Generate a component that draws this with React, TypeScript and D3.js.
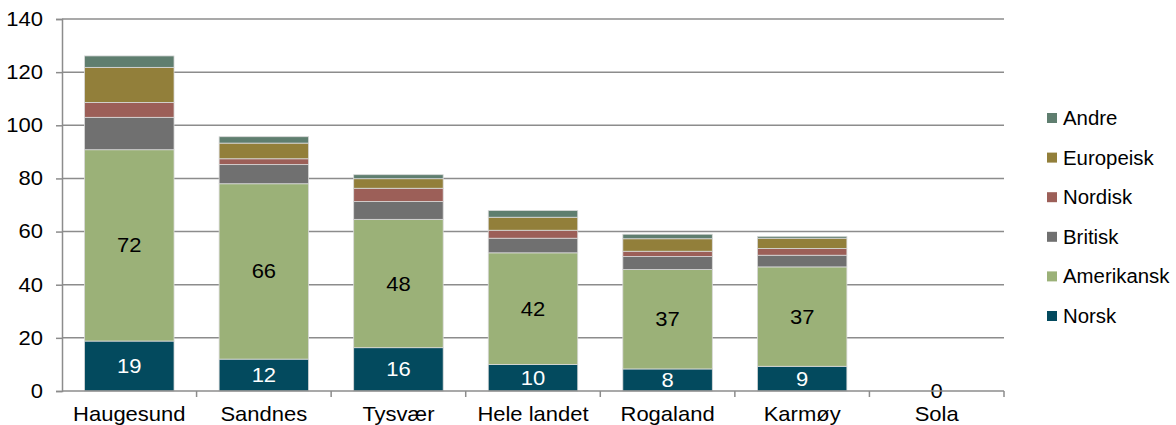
import { axisLeft, scaleBand, scaleLinear, select, stack } from 'd3'
import { useEffect, useRef } from 'react'

const categories = ['Haugesund', 'Sandnes', 'Tysvær', 'Hele landet', 'Rogaland', 'Karmøy', 'Sola']
const seriesNames = ['Norsk', 'Amerikansk', 'Britisk', 'Nordisk', 'Europeisk', 'Andre']
const norsk = [18.8, 12, 16.3, 10, 8.3, 9.3, 0]
const amerikansk = [72, 66, 48.3, 42, 37.4, 37.4, 0]
const britisk = [12.2, 7.2, 6.7, 5.5, 4.9, 4.4, 0]
const nordisk = [5.6, 2.2, 5, 3, 2, 2.5, 0]
const europeisk = [13.2, 5.9, 3.6, 4.9, 4.7, 3.9, 0]
const andre = [4.3, 2.4, 1.5, 2.5, 1.7, 0.7, 0]
const yTicks = [0, 20, 40, 60, 80, 100, 120, 140]

const colors = ['#034a5e', '#9bb178', '#707070', '#9c5f58', '#927f3a', '#5f7e6f']
const font = '"Liberation Sans", Arial, sans-serif'
const fontSize = 20
const stretch = 'scale(1.1,1)'

export default function App() {
  const svgRef = useRef<SVGSVGElement>(null)

  useEffect(() => {
    const root = select(svgRef.current)
    root.selectAll('*').remove()

    const margin = { top: 19, right: 172, bottom: 34, left: 62 }
    const width = 1176 - margin.left - margin.right
    const height = 425 - margin.top - margin.bottom

    const rows = categories.map((c, i) => ({
      cat: c,
      Norsk: norsk[i],
      Amerikansk: amerikansk[i],
      Britisk: britisk[i],
      Nordisk: nordisk[i],
      Europeisk: europeisk[i],
      Andre: andre[i],
    }))
    const layers = stack<any>().keys(seriesNames)(rows)

    const g = root.append('g').attr('transform', `translate(${margin.left},${margin.top})`)

    const x = scaleBand().domain(categories).range([0, width]).paddingInner(0.335).paddingOuter(0.1675)
    const y = scaleLinear().domain([0, 140]).range([height, 0])

    // gridlines
    g.selectAll('.grid')
      .data(yTicks.slice(1))
      .enter()
      .append('line')
      .attr('x1', 0)
      .attr('x2', width)
      .attr('y1', (d) => y(d))
      .attr('y2', (d) => y(d))
      .attr('stroke', '#8c8c8c')
      .attr('stroke-width', 1.5)

    // bars
    layers.forEach((layer, li) => {
      g.append('g')
        .selectAll('rect')
        .data(layer)
        .enter()
        .append('rect')
        .attr('x', (d: any) => x(d.data.cat) as number)
        .attr('y', (d: any) => y(d[1]))
        .attr('width', x.bandwidth())
        .attr('height', (d: any) => y(d[0]) - y(d[1]))
        .attr('fill', colors[li])
        .attr('stroke', (d: any) => (d[1] - d[0] > 0 ? '#d9d9d9' : 'none'))
        .attr('stroke-width', 0.8)
    })

    // value labels for Norsk and Amerikansk
    const labelLayers = [
      { idx: 0, color: '#ffffff' },
      { idx: 1, color: '#000000' },
    ]
    labelLayers.forEach(({ idx, color }) => {
      const lbl = g
        .append('g')
        .selectAll('g')
        .data(layers[idx].filter((d: any) => idx === 1 || d[1] - d[0] > 0))
        .enter()
        .append('g')
        .attr(
          'transform',
          (d: any) => `translate(${(x(d.data.cat) as number) + x.bandwidth() / 2},${(y(d[0]) + y(d[1])) / 2})`,
        )
      lbl
        .append('text')
        .attr('transform', stretch)
        .attr('dy', '0.35em')
        .attr('text-anchor', 'middle')
        .attr('font-family', font)
        .attr('font-size', fontSize)
        .attr('fill', color)
        .text((d: any) => Math.round(d[1] - d[0]))
    })

    // y axis
    const yAxis = g.append('g').call(axisLeft(y).tickValues(yTicks).tickSize(6).tickPadding(13))
    yAxis.select('.domain').attr('stroke', '#8c8c8c').attr('stroke-width', 1.5)
    yAxis.selectAll('.tick line').attr('stroke', '#8c8c8c').attr('stroke-width', 1.5)
    yAxis
      .selectAll('.tick text')
      .attr('font-family', font)
      .attr('font-size', fontSize)
      .attr('fill', '#000')
      .attr('transform', stretch)
      .attr('transform-origin', '-19 0')

    // x axis with ticks between categories
    const xAxis = g.append('g').attr('transform', `translate(0,${height})`)
    xAxis
      .append('line')
      .attr('x1', 0)
      .attr('x2', width)
      .attr('stroke', '#8c8c8c')
      .attr('stroke-width', 1.5)
    const step = x.step()
    xAxis
      .selectAll('.sep')
      .data(categories.map((_, i) => i + 1))
      .enter()
      .append('line')
      .attr('x1', (i) => i * step)
      .attr('x2', (i) => i * step)
      .attr('y1', 0)
      .attr('y2', 6)
      .attr('stroke', '#8c8c8c')
      .attr('stroke-width', 1.5)
    xAxis
      .selectAll('.lbl')
      .data(categories)
      .enter()
      .append('g')
      .attr('transform', (d) => `translate(${(x(d) as number) + x.bandwidth() / 2},30)`)
      .append('text')
      .attr('transform', stretch)
      .attr('text-anchor', 'middle')
      .attr('font-family', font)
      .attr('font-size', fontSize)
      .attr('fill', '#000')
      .text((d) => d)

    // legend
    const legend = root.append('g').attr('transform', 'translate(1047,118)')
    const legendItems = seriesNames.slice().reverse()
    legendItems.forEach((name, i) => {
      const row = legend.append('g').attr('transform', `translate(0,${i * 39.6})`)
      row
        .append('rect')
        .attr('x', 0)
        .attr('y', -5)
        .attr('width', 10)
        .attr('height', 10)
        .attr('fill', colors[seriesNames.indexOf(name)])
      row
        .append('g')
        .attr('transform', 'translate(16,0)')
        .append('text')
        .attr('transform', 'scale(1.02,1)')
        .attr('dy', '0.35em')
        .attr('font-family', font)
        .attr('font-size', fontSize)
        .attr('fill', '#000')
        .text(name)
    })
  }, [])

  return (
    <svg
      ref={svgRef}
      width={1176}
      height={425}
      style={{ position: 'absolute', left: 0, top: 0, background: '#fff' }}
    />
  )
}
